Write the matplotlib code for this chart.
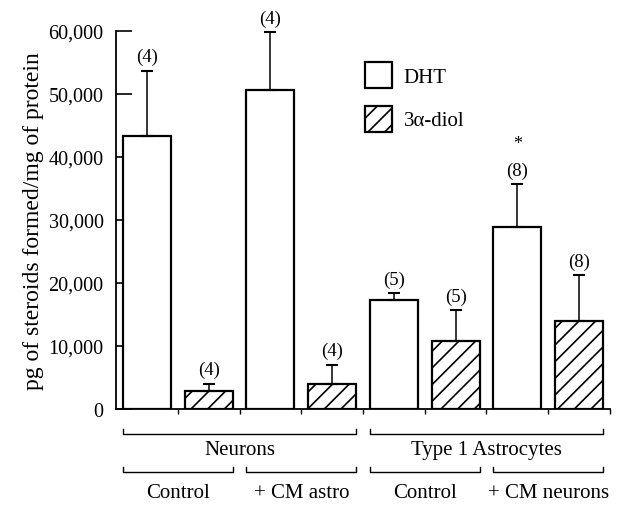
import numpy as np
import matplotlib.pyplot as plt
from matplotlib.patches import Patch
from matplotlib import transforms

plt.rcParams['font.family'] = ['Liberation Serif', 'DejaVu Serif']
plt.rcParams['hatch.linewidth'] = 1.2

##### data #####
conditions = ['Control', '+ CM astro', 'Control', '+ CM neurons']
cell_types = ['Neurons', 'Type 1 Astrocytes']
dht = [43400, 50700, 17350, 28850]
dht_sem = [10300, 9100, 1050, 6850]
diol = [2800, 4000, 10850, 13900]
diol_sem = [1200, 3000, 4850, 7350]
dht_n = [4, 4, 5, 8]
diol_n = [4, 4, 5, 8]
dht_star = [False, False, False, True]

w = 0.78
x_dht = np.arange(4)*2 + 0.5
x_diol = np.arange(4)*2 + 1.5

fig = plt.figure(figsize=(6.22, 5.06), dpi=100)
ax = fig.add_axes([0.1865, 0.1897, 0.7942, 0.7471])

ax.bar(x_dht, dht, w, color='white', edgecolor='black', linewidth=1.6, zorder=2)
ax.bar(x_diol, diol, w, color='white', edgecolor='black', linewidth=1.6, hatch='//', zorder=2)

for xs, ys, es in [(x_dht, dht, dht_sem), (x_diol, diol, diol_sem)]:
    ax.errorbar(xs, ys, yerr=[np.zeros(len(es)), es], fmt='none', ecolor='black',
                elinewidth=1.1, capsize=4.5, capthick=1.5, zorder=3)

# n labels above the error bars
for xs, ys, es, ns in [(x_dht, dht, dht_sem, dht_n), (x_diol, diol, diol_sem, diol_n)]:
    for xi, yi, ei, ni in zip(xs, ys, es, ns):
        ax.annotate('(%d)' % ni, (xi, yi+ei), xytext=(0, 4), textcoords='offset points',
                    ha='center', va='bottom', fontsize=13.5, annotation_clip=False)
for xi, yi, ei, st in zip(x_dht, dht, dht_sem, dht_star):
    if st:
        ax.annotate('*', (xi, yi+ei), xytext=(0, 23), textcoords='offset points',
                    ha='center', va='bottom', fontsize=13, annotation_clip=False)

ax.set_xlim(0, 8)
ax.set_ylim(0, 60000)
ax.set_yticks(np.arange(0, 60001, 10000))
ax.set_yticklabels(['0', '10,000', '20,000', '30,000', '40,000', '50,000', '60,000'])
ax.set_xticks(np.arange(1, 9))
ax.set_xticklabels([])
ax.tick_params(axis='y', direction='in', length=11.5, width=1.2, pad=9, labelsize=14.5)
ax.tick_params(axis='x', direction='out', length=3.5, width=1.0)
ax.spines['top'].set_visible(False)
ax.spines['right'].set_visible(False)
ax.spines['left'].set_linewidth(1.3)
ax.spines['bottom'].set_linewidth(1.3)
ax.set_ylabel('pg of steroids formed/mg of protein', fontsize=17, labelpad=3)

# brackets under the axis
tr = transforms.blended_transform_factory(ax.transData, ax.transAxes)
def bracket(x0, x1, y, label, ly):
    ax.plot([x0, x0, x1, x1], [y+0.013, y, y, y+0.013], color='black', lw=1.0,
            transform=tr, clip_on=False)
    ax.text((x0+x1)/2, ly, label, ha='center', va='center', fontsize=15, transform=tr)

for i in range(4):
    bracket(x_dht[i]-w/2, x_diol[i]+w/2, -0.167, conditions[i], -0.222)
for j in range(2):
    bracket(x_dht[2*j]-w/2, x_diol[2*j+1]+w/2, -0.066, cell_types[j], -0.107)

handles = [Patch(facecolor='white', edgecolor='black', linewidth=1.6),
           Patch(facecolor='white', edgecolor='black', linewidth=1.6, hatch='//')]
ax.legend(handles, ['DHT', '3α-diol'], loc='upper left', bbox_to_anchor=(0.504, 0.917),
          frameon=False, fontsize=15, handlelength=1.3, handleheight=1.55,
          labelspacing=0.82, handletextpad=0.55, borderpad=0, borderaxespad=0)

plt.savefig('out.png', dpi=100)
